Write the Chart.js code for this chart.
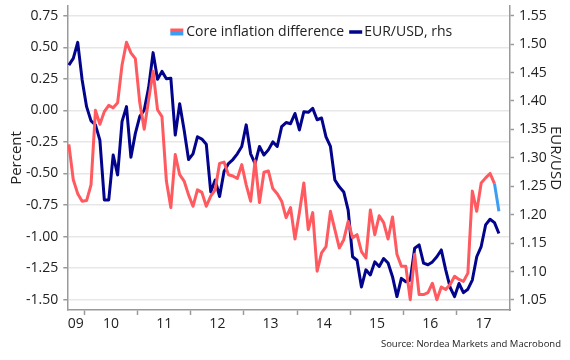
<!DOCTYPE html>
<html>
<head>
<meta charset="utf-8">
<script src="https://cdn.jsdelivr.net/npm/chart.js@4.4.1/dist/chart.umd.min.js"></script>
<style>
  html, body { margin: 0; padding: 0; background: #ffffff; }
  #wrap { width: 570px; height: 360px; position: relative; }
</style>
</head>
<body>
<div id="wrap"><canvas id="c" width="570" height="360"></canvas></div>
<script>
// ---------------- DATA ----------------
const startYear = 2009;
const startMonth = 9; // first observation: Sep 2009 (monthly)

const coreInflationDiff = [
  -0.27, -0.55, -0.66, -0.72, -0.715, -0.59, 0.00, -0.11, -0.01, 0.04,
  0.02, 0.06, 0.36, 0.54, 0.455, 0.41, 0.06, -0.15, 0.085, 0.31,
  0.005, -0.05, -0.56, -0.77, -0.35, -0.51, -0.56, -0.67, -0.76, -0.63,
  -0.65, -0.76, -0.68, -0.63, -0.42, -0.41, -0.51, -0.52, -0.54, -0.43,
  -0.59, -0.72, -0.40, -0.73, -0.49, -0.48, -0.62, -0.66, -0.72, -0.85,
  -0.77, -1.02, -0.81, -0.575, -0.945, -0.81, -1.275, -1.13, -1.08, -0.80,
  -0.945, -1.09, -1.025, -0.88, -1.01, -0.985, -1.12, -1.17, -0.79, -0.985,
  -0.835, -0.89, -1.02, -0.845, -1.14, -1.235, -1.235, -1.50, -1.14, -1.46,
  -1.46, -1.445, -1.37, -1.50, -1.40, -1.42, -1.38, -1.315, -1.34, -1.355,
  -1.29, -0.64, -0.80, -0.575, -0.535, -0.50, -0.58, -0.80
];

const eurUsd = [
  1.463, 1.475, 1.503, 1.437, 1.390, 1.365, 1.358, 1.331, 1.226, 1.226,
  1.305, 1.270, 1.364, 1.390, 1.301, 1.343, 1.373, 1.384, 1.424, 1.485,
  1.438, 1.452, 1.439, 1.440, 1.340, 1.395, 1.349, 1.297, 1.307, 1.337,
  1.333, 1.324, 1.240, 1.261, 1.232, 1.276, 1.290, 1.297, 1.307, 1.320,
  1.358, 1.307, 1.290, 1.320, 1.305, 1.314, 1.328, 1.320, 1.355, 1.362,
  1.360, 1.378, 1.349, 1.381, 1.380, 1.387, 1.367, 1.370, 1.337, 1.320,
  1.261, 1.249, 1.240, 1.208, 1.126, 1.120, 1.073, 1.103, 1.094, 1.117,
  1.109, 1.123, 1.115, 1.091, 1.056, 1.088, 1.082, 1.085, 1.141, 1.147,
  1.115, 1.112, 1.117, 1.126, 1.138, 1.103, 1.072, 1.056, 1.079, 1.063,
  1.069, 1.085, 1.126, 1.144, 1.182, 1.192, 1.186, 1.167
];

const months = coreInflationDiff.map((_, i) => {
  const t = startMonth - 1 + i;
  return (startYear + Math.floor(t / 12)) + '-' + String((t % 12) + 1).padStart(2, '0');
});

const leftTicks = [-1.5, -1.25, -1.0, -0.75, -0.5, -0.25, 0.0, 0.25, 0.5, 0.75];
const rightTicks = [1.05, 1.10, 1.15, 1.20, 1.25, 1.30, 1.35, 1.40, 1.45, 1.50, 1.55];
const yearLabels = ['09', '10', '11', '12', '13', '14', '15', '16', '17'];
const firstLabelYear = 2009;

const seriesNames = ['Core inflation difference', 'EUR/USD, rhs'];
const leftTitle = 'Percent';
const rightTitle = 'EUR/USD';
const sourceText = 'Source: Nordea Markets and Macrobond';

// ---------------- STYLE ----------------
const RED = '#ff5a5f';
const LIGHTBLUE = '#3d9df2';
const NAVY = '#03048c';
const AXIS = '#9a9a9a';
const GRID = '#e7e7e7';
const TEXT = '#222222';
const FONT = "'Open Sans', sans-serif";

// x axis measured in months since Jan 2010; observations at mid-month
function monthPos(label) {
  const [y, m] = label.split('-').map(Number);
  return (y - 2010) * 12 + (m - 1) + 0.5;
}
const X_MIN = -3.85, X_MAX = 96;

const boundaryTicks = [];
const labelTicks = [];
yearLabels.forEach((lab, i) => {
  const Y = firstLabelYear + i;
  const s = (Y - 2010) * 12, e = s + 12;
  if (s > X_MIN && s < X_MAX) boundaryTicks.push(s);
  labelTicks.push((Math.max(s, X_MIN) + Math.min(e, X_MAX)) / 2);
});

const inlineLegend = {
  id: 'inlineLegend',
  afterDraw(chart) {
    const ctx = chart.ctx;
    const a = chart.chartArea;
    ctx.save();
    ctx.font = '14px ' + FONT;
    ctx.textBaseline = 'middle';
    const y = a.top + 26;
    let x = a.left + 103;
    ctx.fillStyle = RED;
    ctx.fillRect(x, y - 3.5, 13, 3.5);
    ctx.fillStyle = LIGHTBLUE;
    ctx.fillRect(x, y, 13, 3.5);
    ctx.fillStyle = TEXT;
    ctx.fillText(seriesNames[0], x + 16, y);
    x = x + 16 + ctx.measureText(seriesNames[0]).width + 5;
    ctx.fillStyle = NAVY;
    ctx.fillRect(x, y - 1.75, 13, 3.5);
    ctx.fillStyle = TEXT;
    ctx.fillText(seriesNames[1], x + 15, y);
    ctx.restore();
  }
};

const lastIdx = coreInflationDiff.length - 1;

function fixY(width) {
  return s => { s.width = width; s.paddingTop = 0; s.paddingBottom = 0; };
}

new Chart(document.getElementById('c'), {
  type: 'line',
  data: {
    datasets: [
      {
        label: seriesNames[0],
        data: months.map((m, i) => ({ x: monthPos(m), y: coreInflationDiff[i] })),
        yAxisID: 'yL',
        borderColor: RED,
        borderWidth: 3,
        pointRadius: 0,
        tension: 0,
        borderJoinStyle: 'round',
        segment: { borderColor: c => (c.p1DataIndex === lastIdx ? LIGHTBLUE : RED) }
      },
      {
        label: seriesNames[1],
        data: months.map((m, i) => ({ x: monthPos(m), y: eurUsd[i] })),
        yAxisID: 'yR',
        borderColor: NAVY,
        borderWidth: 3,
        pointRadius: 0,
        tension: 0,
        borderJoinStyle: 'round'
      }
    ]
  },
  options: {
    responsive: false,
    animation: false,
    events: [],
    layout: { padding: { top: 6, left: 0, right: 9, bottom: 0 } },
    plugins: {
      legend: { display: false },
      tooltip: { enabled: false },
      title: {
        display: true,
        text: sourceText,
        position: 'bottom',
        align: 'end',
        color: TEXT,
        font: { family: FONT, size: 9.5, weight: 'normal', lineHeight: 1.2 },
        padding: { top: 0, bottom: 10.3 }
      }
    },
    scales: {
      x: {
        type: 'linear',
        min: X_MIN,
        max: X_MAX,
        afterBuildTicks: s => { s.ticks = boundaryTicks.concat(labelTicks).map(v => ({ value: v })); },
        afterFit: s => { s.height = 28.3; },
        ticks: {
          autoSkip: false,
          maxRotation: 0,
          minRotation: 0,
          padding: 1,
          color: TEXT,
          font: { family: FONT, size: 14 },
          callback: (v, i) => (i >= boundaryTicks.length ? yearLabels[i - boundaryTicks.length] : '')
        },
        grid: {
          drawOnChartArea: false,
          drawTicks: true,
          tickLength: 5,
          tickWidth: 1.5,
          tickColor: c => (c.index < boundaryTicks.length ? AXIS : 'rgba(0,0,0,0)')
        },
        border: { display: true, color: AXIS, width: 1.5 }
      },
      yL: {
        position: 'left',
        min: -1.582,
        max: 0.827,
        afterBuildTicks: s => { s.ticks = leftTicks.map(v => ({ value: v })); },
        afterFit: fixY(67.3),
        ticks: {
          padding: 5,
          color: TEXT,
          font: { family: FONT, size: 14 },
          callback: v => v.toFixed(2)
        },
        grid: { color: GRID, lineWidth: 1.5, tickLength: 4, tickColor: AXIS, tickWidth: 1.5 },
        border: { display: true, color: AXIS, width: 1.5 },
        title: {
          display: true,
          text: leftTitle,
          color: TEXT,
          font: { family: FONT, size: 15 },
          padding: { top: 8, bottom: 0 }
        }
      },
      yR: {
        position: 'right',
        min: 1.0324,
        max: 1.567,
        afterBuildTicks: s => { s.ticks = rightTicks.map(v => ({ value: v })); },
        afterFit: fixY(51),
        ticks: {
          padding: 5,
          color: TEXT,
          font: { family: FONT, size: 14 },
          callback: v => v.toFixed(2)
        },
        grid: { drawOnChartArea: false, tickLength: 4, tickColor: AXIS, tickWidth: 1.5 },
        border: { display: true, color: AXIS, width: 1.5 },
        title: {
          display: true,
          text: rightTitle,
          color: TEXT,
          font: { family: FONT, size: 15, lineHeight: 0.8 },
          padding: { top: 0, bottom: 0 }
        }
      }
    }
  },
  plugins: [inlineLegend]
});
</script>
</body>
</html>
